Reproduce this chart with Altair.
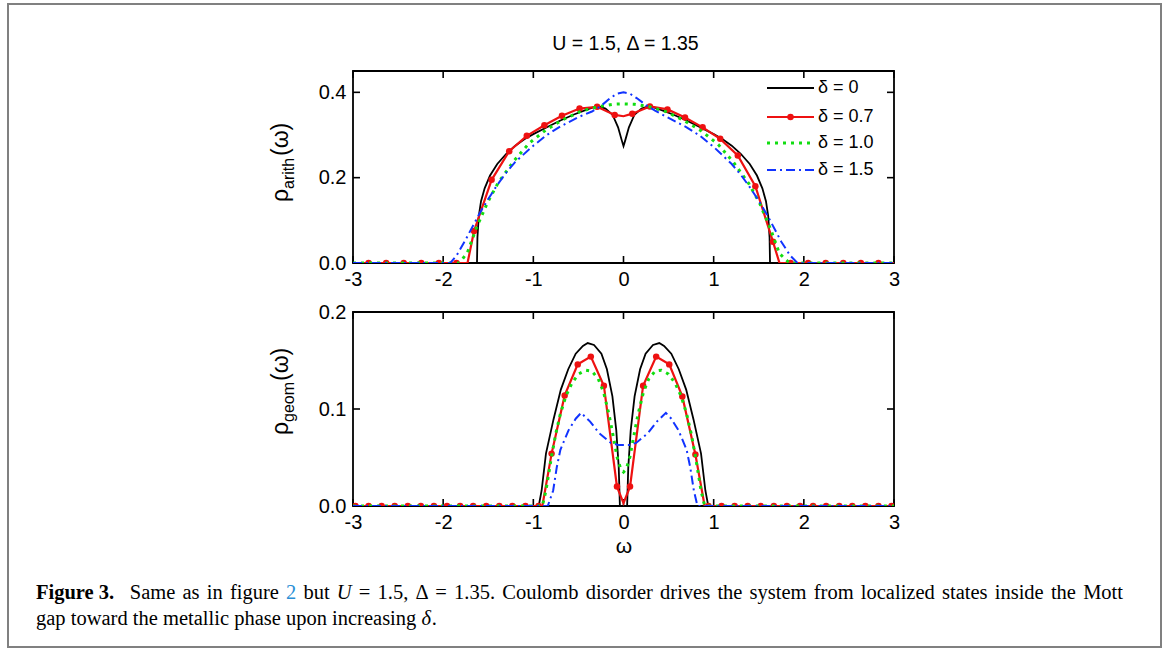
import altair as alt
import pandas as pd

# ---------------- data ----------------
X_TICKS = [-3, -2, -1, 0, 1, 2, 3]
TOP_Y_TICKS = [0.0, 0.2, 0.4]
BOT_Y_TICKS = [0.0, 0.1, 0.2]
SERIES = ["δ = 0", "δ = 0.7", "δ = 1.0", "δ = 1.5"]

# top panel: rho_arith(omega)
top_d0_x = [-3.0, -1.625, -1.62, -1.605, -1.58, -1.54, -1.48, -1.4, -1.3, -1.2, -1.1, -1.0, -0.85, -0.7,
            -0.55, -0.4, -0.29, -0.2, -0.12, -0.06, -0.02, 0.0, 0.02, 0.06, 0.12, 0.2, 0.29, 0.4, 0.55,
            0.7, 0.85, 1.0, 1.1, 1.2, 1.3, 1.4, 1.48, 1.54, 1.58, 1.605, 1.62, 1.625, 3.0]
top_d0_y = [0, 0, 0.06, 0.11, 0.145, 0.175, 0.205, 0.232, 0.256, 0.275, 0.29, 0.302, 0.318, 0.334,
            0.348, 0.36, 0.368, 0.362, 0.347, 0.318, 0.288, 0.274, 0.288, 0.318, 0.347, 0.362, 0.368,
            0.36, 0.348, 0.334, 0.318, 0.302, 0.29, 0.275, 0.256, 0.232, 0.205, 0.175, 0.145, 0.11,
            0.06, 0, 0]

top_d07_x = [-3.0, -2.8275, -2.6325, -2.4375, -2.2425, -2.0475, -1.8525, -1.73, -1.6575, -1.4625,
             -1.2675, -1.0725, -0.8775, -0.6825, -0.4875, -0.2925, -0.0975, 0.0, 0.0975, 0.2925,
             0.4875, 0.6825, 0.8775, 1.0725, 1.2675, 1.4625, 1.6575, 1.73, 1.8525, 2.0475, 2.2425,
             2.4375, 2.6325, 2.8275, 3.0]
top_d07_y = [0, 0, 0, 0, 0, 0, 0, 0, 0.075, 0.195, 0.262, 0.298, 0.323, 0.345, 0.362, 0.366, 0.347,
             0.344, 0.35, 0.367, 0.36, 0.341, 0.318, 0.291, 0.252, 0.18, 0.05, 0, 0, 0, 0, 0, 0, 0, 0]
top_d07_marker = [0, 1, 1, 1, 1, 1, 1, 0, 1, 1, 1, 1, 1, 1, 1, 1, 1, 0, 1, 1, 1, 1, 1, 1, 1, 1, 1, 0,
                  1, 1, 1, 1, 1, 1, 0]

top_d10_x = [-3.0, -1.82, -1.73, -1.63, -1.51, -1.39, -1.22, -1.05, -0.86, -0.67, -0.47, -0.29, -0.12,
             0.0, 0.12, 0.29, 0.47, 0.67, 0.86, 1.05, 1.22, 1.39, 1.51, 1.63, 1.73, 1.84, 3.0]
top_d10_y = [0, 0, 0.025, 0.083, 0.141, 0.188, 0.238, 0.28, 0.312, 0.336, 0.356, 0.366, 0.372, 0.373,
             0.372, 0.366, 0.355, 0.334, 0.31, 0.278, 0.236, 0.186, 0.14, 0.08, 0.022, 0, 0]

top_d15_x = [-3.0, -1.92, -1.85, -1.75, -1.6, -1.5, -1.4, -1.3, -1.2, -1.0, -0.85, -0.7, -0.5, -0.35,
             -0.25, -0.15, -0.07, 0.0, 0.07, 0.15, 0.25, 0.35, 0.5, 0.7, 0.85, 1.0, 1.2, 1.3, 1.4, 1.5,
             1.6, 1.75, 1.85, 1.93, 3.0]
top_d15_y = [0, 0, 0.018, 0.055, 0.115, 0.15, 0.183, 0.212, 0.237, 0.275, 0.3, 0.32, 0.342, 0.355,
             0.368, 0.386, 0.397, 0.4, 0.397, 0.386, 0.37, 0.357, 0.34, 0.318, 0.298, 0.272, 0.232,
             0.207, 0.178, 0.146, 0.11, 0.05, 0.017, 0, 0]

# bottom panel: rho_geom(omega)
bot_d0_x = [-3.0, -0.94, -0.908, -0.86, -0.777, -0.695, -0.613, -0.53, -0.45, -0.397, -0.327, -0.245,
            -0.184, -0.123, -0.08, -0.053, -0.04, 0.0, 0.04, 0.053, 0.08, 0.123, 0.184, 0.245, 0.327,
            0.397, 0.45, 0.53, 0.613, 0.695, 0.777, 0.86, 0.908, 0.94, 3.0]
bot_d0_y = [0, 0, 0.016, 0.054, 0.089, 0.12, 0.141, 0.157, 0.165, 0.168, 0.166, 0.157, 0.141, 0.113,
            0.078, 0.04, 0, 0, 0, 0.04, 0.078, 0.113, 0.141, 0.157, 0.166, 0.168, 0.165, 0.157, 0.141,
            0.12, 0.089, 0.054, 0.016, 0, 0]

bot_d07_x = [-3.0, -2.9725, -2.8275, -2.6825, -2.5375, -2.3925, -2.2475, -2.1025, -1.9575, -1.8125,
             -1.6675, -1.5225, -1.3775, -1.2325, -1.0875, -0.9425, -0.9, -0.7975, -0.6525, -0.5075,
             -0.3625, -0.2175, -0.0725, 0.0, 0.0725, 0.2175, 0.3625, 0.5075, 0.6525, 0.7975, 0.9,
             0.9425, 1.0875, 1.2325, 1.3775, 1.5225, 1.6675, 1.8125, 1.9575, 2.1025, 2.2475, 2.3925,
             2.5375, 2.6825, 2.8275, 2.9725, 3.0]
bot_d07_y = [0, 0, 0, 0, 0, 0, 0, 0, 0, 0, 0, 0, 0, 0, 0, 0, 0, 0.054, 0.114, 0.146, 0.154, 0.124,
             0.02, 0.003, 0.02, 0.124, 0.154, 0.146, 0.113, 0.053, 0, 0, 0, 0, 0, 0, 0, 0, 0, 0, 0, 0,
             0, 0, 0, 0, 0]
bot_d07_marker = [0, 1, 1, 1, 1, 1, 1, 1, 1, 1, 1, 1, 1, 1, 1, 1, 0, 1, 1, 1, 1, 1, 1, 0, 1, 1, 1, 1,
                  1, 1, 0, 1, 1, 1, 1, 1, 1, 1, 1, 1, 1, 1, 1, 1, 1, 1, 0]

bot_d10_x = [-3.0, -0.9, -0.86, -0.8, -0.75, -0.7, -0.64, -0.57, -0.5, -0.42, -0.35, -0.28, -0.22,
             -0.16, -0.11, -0.07, -0.03, 0.0, 0.03, 0.07, 0.11, 0.16, 0.22, 0.28, 0.35, 0.42, 0.5, 0.57,
             0.64, 0.7, 0.75, 0.8, 0.86, 0.9, 3.0]
bot_d10_y = [0, 0, 0.016, 0.05, 0.075, 0.095, 0.113, 0.127, 0.136, 0.14, 0.139, 0.131, 0.117, 0.094,
             0.07, 0.05, 0.038, 0.035, 0.038, 0.05, 0.07, 0.094, 0.117, 0.131, 0.139, 0.14, 0.136, 0.127,
             0.113, 0.095, 0.075, 0.05, 0.016, 0, 0]

bot_d15_x = [-3.0, -0.84, -0.78, -0.74, -0.7, -0.61, -0.53, -0.47, -0.37, -0.27, -0.14, -0.06, 0.0,
             0.06, 0.14, 0.27, 0.37, 0.47, 0.53, 0.61, 0.7, 0.74, 0.78, 0.82, 3.0]
bot_d15_y = [0, 0, 0.016, 0.04, 0.058, 0.078, 0.09, 0.096, 0.087, 0.075, 0.065, 0.063, 0.063, 0.063,
             0.065, 0.075, 0.087, 0.096, 0.09, 0.078, 0.058, 0.04, 0.016, 0, 0]

# caption words (line 1 is justified, line 2 is not)
CAPTION_L1 = [("Figure 3.", "bold"), ("Same", ""), ("as", ""), ("in", ""), ("figure", ""), ("2", "link"),
              ("but", ""), ("U", "italic"), ("=", ""), ("1.5,", ""), ("Δ", ""), ("=", ""), ("1.35.", ""),
              ("Coulomb", ""), ("disorder", ""), ("drives", ""), ("the", ""), ("system", ""), ("from", ""),
              ("localized", ""), ("states", ""), ("inside", ""), ("the", ""), ("Mott", "")]
CAPTION_L2 = [("gap", ""), ("toward", ""), ("the", ""), ("metallic", ""), ("phase", ""), ("upon", ""),
              ("increasing", ""), ("δ", "italic"), (".", "")]

# ---------------- styling ----------------
FONT = "Liberation Sans"
SERIF = "Liberation Serif"
W, H_TOP, H_BOT = 541, 192, 194
BLACK, RED, GREEN, BLUE = "#000000", "#ee1111", "#11dd11", "#1133ff"
DOT = [3, 5]
DASHDOT = [9, 4, 2, 4]
TICK = 7
OX, OY_BOT = 352, 311  # page position of the bottom panel's origin

XS = alt.Scale(domain=[-3, 3], nice=False, zero=False)
YS_TOP = alt.Scale(domain=[0, 0.45], nice=False)
YS_BOT = alt.Scale(domain=[0, 0.2], nice=False)


def x_axis(title):
    kw = dict(values=X_TICKS, labelExpr="datum.value < 0 ? '-' + abs(datum.value) : '' + datum.value",
              domain=False, ticks=False, grid=False, labelFont=FONT, labelFontSize=20,
              labelColor="black", labelPadding=6, labelFlush=False, labelOverlap=False)
    if title:
        kw.update(title=title, titleFont=FONT, titleFontSize=21, titleFontWeight="normal",
                  titleColor="black", titlePadding=3)
    else:
        kw.update(title=None)
    return alt.Axis(**kw)


def y_axis(values):
    return alt.Axis(values=values, format=".1f", domain=False, ticks=False, grid=False, title=None,
                    labelFont=FONT, labelFontSize=20, labelColor="black", labelPadding=7,
                    labelFlush=False, labelOverlap=False)


def panel(ys, yticks, h, series, title_x):
    xa = x_axis(title_x)
    ya = y_axis(yticks)
    X = alt.X("x:Q", scale=XS, axis=xa)
    Y = alt.Y("y:Q", scale=ys, axis=ya)
    layers = []
    xt = pd.DataFrame({"v": X_TICKS})
    yt = pd.DataFrame({"v": yticks})
    tx = alt.X("v:Q", scale=XS, axis=xa)
    ty = alt.Y("v:Q", scale=ys, axis=ya)
    rule = dict(color="black", strokeWidth=1.6)
    layers.append(alt.Chart(xt).mark_rule(**rule).encode(x=tx, y=alt.value(h), y2=alt.value(h - TICK)))
    layers.append(alt.Chart(xt).mark_rule(**rule).encode(x=tx, y=alt.value(0), y2=alt.value(TICK)))
    layers.append(alt.Chart(yt).mark_rule(**rule).encode(y=ty, x=alt.value(0), x2=alt.value(TICK)))
    layers.append(alt.Chart(yt).mark_rule(**rule).encode(y=ty, x=alt.value(W - TICK), x2=alt.value(W)))

    (x0, y0), (x1, y1, m1), (x2, y2), (x3, y3) = series
    d0 = pd.DataFrame({"x": x0, "y": y0})
    d1 = pd.DataFrame({"x": x1, "y": y1, "m": m1})
    d2 = pd.DataFrame({"x": x2, "y": y2})
    d3 = pd.DataFrame({"x": x3, "y": y3})
    layers.append(alt.Chart(d0).mark_line(color=BLACK, strokeWidth=1.8, clip=True).encode(x=X, y=Y))
    layers.append(alt.Chart(d1).mark_line(color=RED, strokeWidth=2.2, clip=True).encode(x=X, y=Y))
    layers.append(alt.Chart(d1).transform_filter("datum.m == 1").mark_circle(
        color=RED, opacity=1, size=42, clip=True).encode(x=X, y=Y))
    layers.append(alt.Chart(d2).mark_line(color=GREEN, strokeWidth=3, strokeDash=DOT, clip=True)
                  .encode(x=X, y=Y))
    layers.append(alt.Chart(d3).mark_line(color=BLUE, strokeWidth=2, strokeDash=DASHDOT, clip=True)
                  .encode(x=X, y=Y))
    return layers


one = pd.DataFrame({"a": [0]})


def txt(text, x, y, size=20, font=FONT, **kw):
    return alt.Chart(one).mark_text(text=text, font=font, fontSize=size, color=kw.pop("color", "black"),
                                    align=kw.pop("align", "left"), baseline=kw.pop("baseline", "alphabetic"),
                                    **kw).encode(x=alt.value(x), y=alt.value(y))


# Times-compatible advance widths (1/1000 em) used to set the justified caption
_REG = dict(zip("abcdefghijklmnopqrstuvwxyz",
                [444, 500, 444, 500, 444, 333, 500, 500, 278, 278, 500, 278, 778, 500, 500, 500, 500,
                 333, 389, 278, 500, 500, 722, 500, 500, 444]))
_REG.update({"C": 667, "F": 556, "M": 889, "S": 556, "U": 722, "Δ": 612, "δ": 500, "=": 564, ".": 250,
             ",": 250, " ": 250, **{d: 500 for d in "0123456789"}})
_BOLD = dict(_REG)
_BOLD.update({"F": 611, "u": 556, "r": 444, "g": 500, "e": 444, "i": 278})


def wlen(s, style, size):
    table = _BOLD if style == "bold" else _REG
    return sum(table.get(c, 500) for c in s) * size / 1000.0


def set_line(words, x0, y, size, x1=None, lead_gap=0.0):
    widths = [wlen(w, s, size) for w, s in words]
    n = len(words) - 1
    if x1 is None:
        gap = 0.25 * size
    else:
        gap = (x1 - x0 - sum(widths) - lead_gap) / n
    out, x = [], x0
    for i, ((w, s), wd) in enumerate(zip(words, widths)):
        kw = {}
        if s == "bold":
            kw["fontWeight"] = "bold"
        elif s == "italic":
            kw["fontStyle"] = "italic"
        elif s == "link":
            kw["color"] = "#2a8fd6"
        out.append(txt(w, x - OX, y - OY_BOT, size=size, font=SERIF, **kw))
        x += wd + gap + (lead_gap if i == 0 else 0)
        if w == "δ":
            x -= gap
    return out


# ---------------- top panel ----------------
top_layers = panel(YS_TOP, TOP_Y_TICKS, H_TOP,
                   [(top_d0_x, top_d0_y), (top_d07_x, top_d07_y, top_d07_marker),
                    (top_d10_x, top_d10_y), (top_d15_x, top_d15_y)], None)

# legend (inside the top panel)
LEG_Y = [17, 46, 72, 99]
LX0, LX1, LXT = 414, 461, 465
styles = [dict(color=BLACK, strokeWidth=1.8), dict(color=RED, strokeWidth=2.2),
          dict(color=GREEN, strokeWidth=3, strokeDash=DOT), dict(color=BLUE, strokeWidth=2, strokeDash=DASHDOT)]
for name, ly, st in zip(SERIES, LEG_Y, styles):
    top_layers.append(alt.Chart(one).mark_rule(**st).encode(x=alt.value(LX0), x2=alt.value(LX1), y=alt.value(ly)))
    top_layers.append(txt(name, LXT, ly, size=18, baseline="middle"))
top_layers.append(alt.Chart(one).mark_circle(color=RED, opacity=1, size=42)
                  .encode(x=alt.value((LX0 + LX1) / 2), y=alt.value(LEG_Y[1])))

# title and y title
top_layers.append(txt("U = 1.5, Δ = 1.35", W / 2 + 2, -27, size=19.5, align="center", baseline="middle"))
top_layers.append(txt("ρ", -65, 131, size=23, angle=270))
top_layers.append(txt("arith", -59, 118, size=16, angle=270))
top_layers.append(txt("(ω)", -65, 85, size=23, angle=270))

top = alt.layer(*top_layers).properties(width=W, height=H_TOP)

# ---------------- bottom panel ----------------
bot_layers = panel(YS_BOT, BOT_Y_TICKS, H_BOT,
                   [(bot_d0_x, bot_d0_y), (bot_d07_x, bot_d07_y, bot_d07_marker),
                    (bot_d10_x, bot_d10_y), (bot_d15_x, bot_d15_y)], "ω")
bot_layers.append(txt("ρ", -65, 123, size=23, angle=270))
bot_layers.append(txt("geom", -59, 110, size=16, angle=270))
bot_layers.append(txt("(ω)", -65, 69, size=23, angle=270))

# page frame and caption (positioned relative to the bottom panel)
bot_layers.append(alt.Chart(one).mark_rect(fillOpacity=0, stroke="#808080", strokeWidth=2)
                  .encode(x=alt.value(7 - OX), x2=alt.value(1160 - OX), y=alt.value(3 - OY_BOT),
                          y2=alt.value(646 - OY_BOT)))
CAP = 20.5
bot_layers += set_line(CAPTION_L1, 35, 598, CAP, x1=1122, lead_gap=8)
bot_layers += set_line(CAPTION_L2, 35, 624, CAP)

bottom = alt.layer(*bot_layers).properties(width=W, height=H_BOT)

chart = (
    alt.vconcat(top, bottom, spacing=49, bounds="flush")
    .properties(padding={"left": 6, "top": 2, "right": 0, "bottom": 0}, background="white")
    .configure_view(stroke="black", strokeWidth=1.8)
)

chart.save("out.html", embed_options={"renderer": "svg", "actions": False})
